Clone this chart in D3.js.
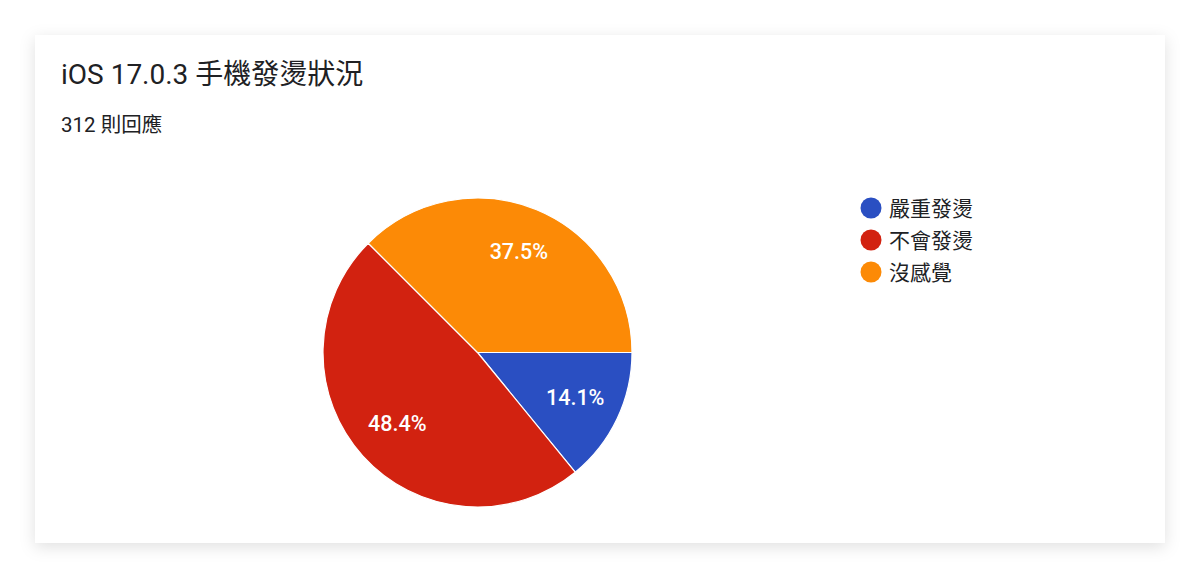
<!DOCTYPE html>
<html>
<head>
<meta charset="utf-8">
<script src="https://cdn.jsdelivr.net/npm/d3@7"></script>
<style>
  body { margin: 0; background: #ffffff; }
  svg { display: block; }
</style>
</head>
<body>
<div id="chart"></div>
<script>
// data
var categories = ["嚴重發燙", "不會發燙", "沒感覺"];
var percents = [14.1, 48.4, 37.5];
var colors = ["#2a4fc2", "#d22210", "#fc8a06"];
var title = "iOS 17.0.3 手機發燙狀況";
var subtitle = "312 則回應";

var width = 1200;
var height = 578;

var svg = d3.select("#chart").append("svg")
  .attr("width", width)
  .attr("height", height);

var defs = svg.append("defs");
var filter = defs.append("filter")
  .attr("id", "shadow")
  .attr("x", "-10%").attr("y", "-10%")
  .attr("width", "120%").attr("height", "125%");
filter.append("feDropShadow")
  .attr("dx", 0).attr("dy", 4)
  .attr("stdDeviation", 8)
  .attr("flood-color", "#000")
  .attr("flood-opacity", 0.12);

// card
svg.append("rect")
  .attr("x", 35).attr("y", 35)
  .attr("width", 1130).attr("height", 508)
  .attr("fill", "#fff")
  .attr("filter", "url(#shadow)");

svg.append("text")
  .text(title)
  .attr("x", 61).attr("y", 84)
  .attr("font-size", 28)
  .attr("font-family", "Roboto, 'Noto Sans CJK TC', sans-serif")
  .attr("fill", "#202124");

svg.append("text")
  .text(subtitle)
  .attr("x", 61).attr("y", 132)
  .attr("font-size", 20.5)
  .attr("font-family", "Roboto, 'Noto Sans CJK TC', sans-serif")
  .attr("fill", "#202124");

// pie
var cx = 477.5, cy = 352.5, radius = 154.5;

var pie = d3.pie()
  .sort(null)
  .value(function(d){ return d; })
  .startAngle(Math.PI / 2)
  .endAngle(Math.PI / 2 + 2 * Math.PI);

var arc = d3.arc().innerRadius(0).outerRadius(radius);
var labelArc = d3.arc().innerRadius(radius * 0.7).outerRadius(radius * 0.7);

var g = svg.append("g").attr("transform", "translate(" + cx + "," + cy + ")");

var slices = pie(percents);

g.selectAll("path")
  .data(slices)
  .enter()
  .append("path")
  .attr("d", arc)
  .attr("fill", function(d, i){ return colors[i]; })
  .attr("stroke", "#fff")
  .attr("stroke-width", 1.2);

g.selectAll("text")
  .data(slices)
  .enter()
  .append("text")
  .text(function(d){ return d.data.toFixed(1) + "%"; })
  .attr("transform", function(d){ return "translate(" + labelArc.centroid(d) + ")"; })
  .attr("text-anchor", "middle")
  .attr("dy", "0.3em")
  .attr("fill", "#fff")
  .attr("font-size", 21.5)
  .attr("font-weight", 500)
  .attr("font-family", "Roboto, Arial, sans-serif");

// legend
var legend = svg.append("g");
legend.selectAll("circle")
  .data(categories)
  .enter()
  .append("circle")
  .attr("cx", 871)
  .attr("cy", function(d, i){ return 208 + i * 32; })
  .attr("r", 10.5)
  .attr("fill", function(d, i){ return colors[i]; });

legend.selectAll("text")
  .data(categories)
  .enter()
  .append("text")
  .text(function(d){ return d; })
  .attr("x", 889)
  .attr("y", function(d, i){ return 208 + i * 32; })
  .attr("dy", "0.36em")
  .attr("font-size", 21)
  .attr("font-family", "'Noto Sans CJK TC', sans-serif")
  .attr("fill", "#202124");
</script>
</body>
</html>
